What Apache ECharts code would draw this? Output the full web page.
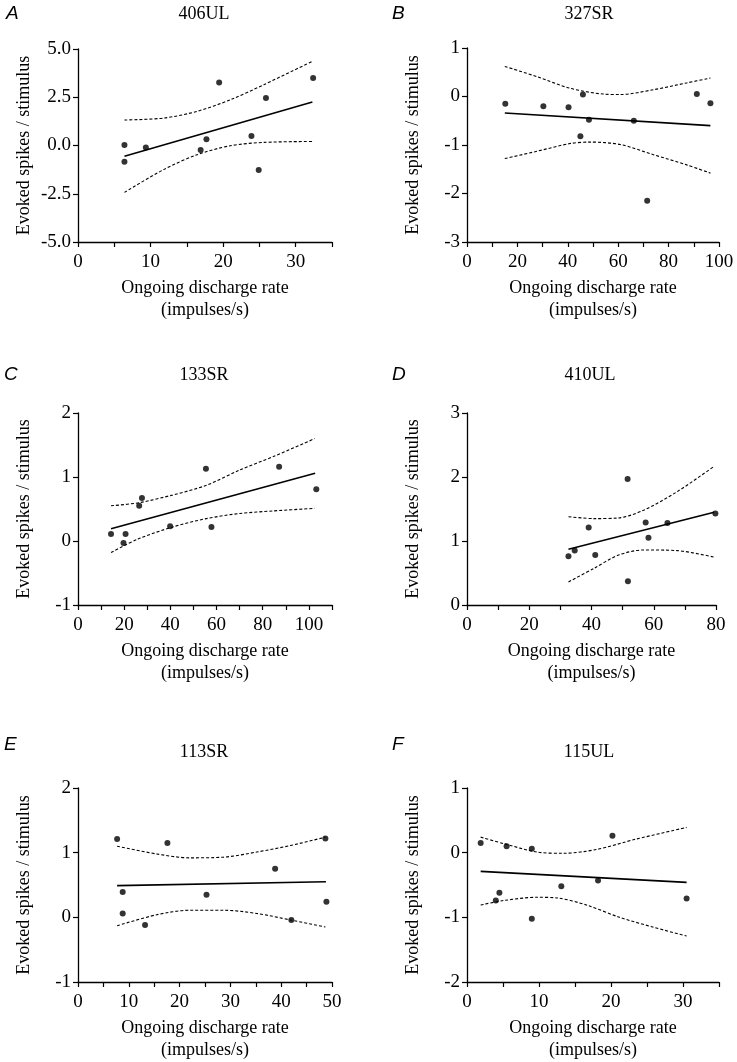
<!DOCTYPE html>
<html><head><meta charset="utf-8">
<script src="https://cdn.jsdelivr.net/npm/echarts@6/dist/echarts.min.js"></script>
<style>html,body{margin:0;padding:0;background:#fff}#c{width:737px;height:1062px}</style>
</head><body><div id="c"></div>
<script>
// ---------- DATA ----------
// Panel A: 406UL
const aPointsX = [6.4, 6.4, 9.35, 16.9, 17.7, 19.45, 23.9, 24.9, 25.9, 32.4];
const aPointsY = [0.03, -0.84, -0.11, -0.23, 0.32, 3.27, 0.49, -1.27, 2.46, 3.50];
const aFit   = [[6.4, -0.56], [32.3, 2.25]];
const aUpper = [[6.4, 1.32], [11.8, 1.42], [16.4, 1.77], [21.0, 2.37], [25.6, 3.15], [32.3, 4.36]];
const aLower = [[6.4, -2.43], [11.8, -1.25], [16.4, -0.48], [21.0, -0.01], [25.6, 0.16], [32.3, 0.21]];

// Panel B: 327SR
const bPointsX = [15.2, 30.3, 40.3, 45.0, 46.0, 48.4, 66.2, 71.5, 91.2, 96.6];
const bPointsY = [-0.15, -0.20, -0.22, -0.82, 0.04, -0.48, -0.50, -2.15, 0.05, -0.14];
const bFit   = [[15.0, -0.34], [96.6, -0.60]];
const bUpper = [[15.0, 0.62], [27.7, 0.41], [40.9, 0.17], [54.1, 0.05], [60.8, 0.04], [74.0, 0.14], [87.2, 0.28], [96.6, 0.38]];
const bLower = [[15.0, -1.28], [27.7, -1.13], [40.9, -0.97], [48.9, -0.94], [60.8, -0.99], [74.0, -1.20], [87.2, -1.41], [96.6, -1.58]];

// Panel C: 133SR
const cPointsX = [14.3, 19.7, 20.6, 26.5, 27.7, 39.9, 55.4, 57.8, 87.1, 103.2];
const cPointsY = [0.11, -0.03, 0.11, 0.55, 0.67, 0.23, 1.13, 0.22, 1.16, 0.81];
const cFit   = [[14.3, 0.19], [102.7, 1.06]];
const cUpper = [[14.3, 0.55], [26.7, 0.60], [41.1, 0.72], [55.6, 0.87], [70.1, 1.11], [84.6, 1.32], [102.5, 1.60]];
const cLower = [[14.3, -0.18], [25.9, 0.03], [41.1, 0.22], [55.6, 0.35], [70.1, 0.43], [84.6, 0.47], [102.5, 0.51]];

// Panel D: 410UL
const dPointsX = [32.6, 34.6, 39.1, 41.2, 51.6, 51.7, 57.4, 58.3, 64.4, 79.8];
const dPointsY = [0.76, 0.85, 1.21, 0.78, 1.97, 0.37, 1.29, 1.05, 1.28, 1.43];
const dFit   = [[32.6, 0.87], [79.4, 1.45]];
const dUpper = [[32.6, 1.38], [40.7, 1.35], [48.7, 1.36], [56.7, 1.48], [67.5, 1.77], [79.2, 2.16]];
const dLower = [[32.6, 0.36], [40.7, 0.57], [48.7, 0.78], [56.7, 0.86], [67.5, 0.85], [79.2, 0.75]];

// Panel E: 113SR
const ePointsX = [7.7, 8.8, 8.8, 13.2, 17.6, 25.3, 38.8, 42.0, 48.7, 48.9];
const ePointsY = [1.21, 0.39, 0.06, -0.12, 1.15, 0.35, 0.75, -0.04, 1.22, 0.24];
const eFit   = [[7.7, 0.49], [48.8, 0.55]];
const eUpper = [[7.7, 1.10], [15.5, 0.98], [22.0, 0.92], [28.6, 0.93], [35.2, 1.01], [41.8, 1.11], [48.7, 1.24]];
const eLower = [[7.7, -0.13], [15.5, 0.04], [22.0, 0.11], [28.6, 0.11], [35.2, 0.06], [41.8, -0.04], [48.7, -0.15]];

// Panel F: 115UL
const fPointsX = [1.9, 4.0, 4.5, 5.5, 9.0, 9.0, 13.1, 18.2, 20.2, 30.5];
const fPointsY = [0.15, -0.74, -0.62, 0.10, 0.06, -1.02, -0.52, -0.43, 0.26, -0.71];
const fFit   = [[1.9, -0.29], [30.5, -0.46]];
const fUpper = [[1.9, 0.24], [5.1, 0.14], [9.7, 0.01], [13.4, -0.01], [18.0, 0.05], [23.5, 0.21], [30.5, 0.39]];
const fLower = [[1.9, -0.81], [5.1, -0.74], [9.7, -0.69], [12.5, -0.70], [16.6, -0.81], [21.2, -1.00], [25.8, -1.15], [30.5, -1.29]];

const panelLetters = ['A', 'B', 'C', 'D', 'E', 'F'];
const panelTitles = ['406UL', '327SR', '133SR', '410UL', '113SR', '115UL'];
const xAxisName = 'Ongoing discharge rate\n(impulses/s)';
const yAxisName = 'Evoked spikes / stimulus';

// ---------- LAYOUT ----------
const SERIF = "'Liberation Serif','Times New Roman',serif";
const panels = [
  {px: aPointsX, py: aPointsY, fit: aFit, up: aUpper, lo: aLower,
   grid: {left: 78, top: 49, width: 254, height: 193},
   x: {max: 35, step: 5, labelEvery: 10}, y: {min: -5, max: 5, step: 2.5, dec: 1},
   title: [204, 14], letter: [6, 14]},
  {px: bPointsX, py: bPointsY, fit: bFit, up: bUpper, lo: bLower,
   grid: {left: 467, top: 48, width: 252, height: 194},
   x: {max: 100, step: 10, labelEvery: 20}, y: {min: -3, max: 1, step: 1, dec: 0},
   title: [589, 14], letter: [392, 14]},
  {px: cPointsX, py: cPointsY, fit: cFit, up: cUpper, lo: cLower,
   grid: {left: 78, top: 413, width: 254, height: 192},
   x: {max: 110, step: 10, labelEvery: 20}, y: {min: -1, max: 2, step: 1, dec: 0},
   title: [204, 375], letter: [4, 375]},
  {px: dPointsX, py: dPointsY, fit: dFit, up: dUpper, lo: dLower,
   grid: {left: 467, top: 413, width: 249, height: 192},
   x: {max: 80, step: 10, labelEvery: 20}, y: {min: 0, max: 3, step: 1, dec: 0},
   title: [590, 375], letter: [392, 375]},
  {px: ePointsX, py: ePointsY, fit: eFit, up: eUpper, lo: eLower,
   grid: {left: 78, top: 788, width: 254, height: 194},
   x: {max: 50, step: 5, labelEvery: 10}, y: {min: -1, max: 2, step: 1, dec: 0},
   title: [204, 752], letter: [4, 745]},
  {px: fPointsX, py: fPointsY, fit: fFit, up: fUpper, lo: fLower,
   grid: {left: 467, top: 788, width: 252, height: 194},
   x: {max: 35, step: 5, labelEvery: 10}, y: {min: -2, max: 1, step: 1, dec: 0},
   title: [589, 752], letter: [392, 745]}
];

const grids = [], xAxes = [], yAxes = [], series = [], graphics = [];
const axisLine = {show: true, onZero: false, lineStyle: {color: '#000', width: 1.3}};
panels.forEach((p, i) => {
  grids.push(Object.assign({containLabel: false, outerBoundsMode: 'none'}, p.grid));
  xAxes.push({
    type: 'value', gridIndex: i, min: 0, max: p.x.max, interval: p.x.step,
    axisLine: axisLine,
    axisTick: {show: true, length: 5, lineStyle: {color: '#000', width: 1.2}},
    splitLine: {show: false},
    axisLabel: {color: '#000', fontFamily: SERIF, fontSize: 19, margin: 11,
      formatter: v => (Math.abs(v % p.x.labelEvery) < 1e-9 ? String(v) : '')},
    name: xAxisName, nameLocation: 'middle', nameGap: 35,
    nameTextStyle: {color: '#000', fontFamily: SERIF, fontSize: 18, lineHeight: 22}
  });
  yAxes.push({
    type: 'value', gridIndex: i, min: p.y.min, max: p.y.max, interval: p.y.step,
    axisLine: axisLine,
    axisTick: {show: true, length: 5, lineStyle: {color: '#000', width: 1.2}},
    splitLine: {show: false},
    axisLabel: {color: '#000', fontFamily: SERIF, fontSize: 19, margin: 7,
      formatter: v => v.toFixed(p.y.dec)},
    name: yAxisName, nameLocation: 'middle', nameGap: 45,
    nameTextStyle: {color: '#000', fontFamily: SERIF, fontSize: 18}
  });
  series.push({
    type: 'scatter', xAxisIndex: i, yAxisIndex: i, symbolSize: 6,
    itemStyle: {color: '#000'}, data: p.px.map((x, k) => [x, p.py[k]]), z: 5
  });
  series.push({
    type: 'line', xAxisIndex: i, yAxisIndex: i, showSymbol: false, data: p.fit,
    lineStyle: {color: '#000', width: 1.6}
  });
  [p.up, p.lo].forEach(d => series.push({
    type: 'line', xAxisIndex: i, yAxisIndex: i, showSymbol: false, smooth: 0.3, data: d,
    lineStyle: {color: '#000', width: 1.1, type: [3, 2]}
  }));
  graphics.push({type: 'text', x: p.title[0], y: p.title[1],
    style: {text: panelTitles[i], fill: '#000', font: '18px ' + SERIF, textAlign: 'center', textVerticalAlign: 'middle'}});
  graphics.push({type: 'text', x: p.letter[0], y: p.letter[1],
    style: {text: panelLetters[i], fill: '#000', font: 'italic 19px "Liberation Sans", Arial, sans-serif', textAlign: 'left', textVerticalAlign: 'middle'}});
});

const chart = echarts.init(document.getElementById('c'), null, {renderer: 'canvas'});
chart.setOption({
  backgroundColor: '#fff', animation: false,
  grid: grids, xAxis: xAxes, yAxis: yAxes, series: series, graphic: graphics
});
</script></body></html>
